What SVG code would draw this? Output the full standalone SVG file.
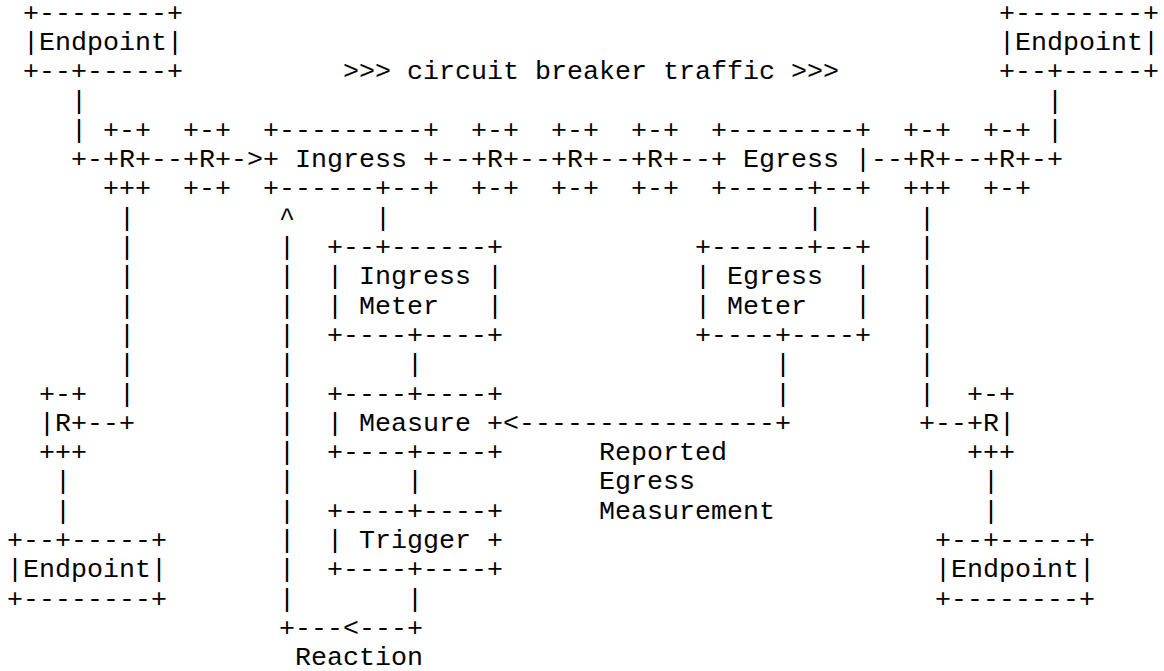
<svg xmlns="http://www.w3.org/2000/svg" width="1164" height="671" viewBox="0 0 1164 671" xml:space="preserve">
<style>
text{font-family:"Liberation Mono","Courier New",monospace;font-size:26.667px;fill:#000;white-space:pre}
</style>
<rect width="1164" height="671" fill="#fff"/>
<g id="connectors">
<text x="71" y="108.6">|</text><text x="71" y="137.9">|</text>
<text x="1047" y="108.6">|</text><text x="1047" y="137.9">|</text>
<text x="71" y="167.1">+-</text>
<text x="151" y="167.1">--</text>
<text x="231" y="167.1">-&gt;</text>
<text x="439" y="167.1">--</text>
<text x="519" y="167.1">--</text>
<text x="599" y="167.1">--</text>
<text x="679" y="167.1">--</text>
<text x="871" y="167.1">--</text>
<text x="951" y="167.1">--</text>
<text x="1031" y="167.1">-+</text>
<text x="119" y="225.7">|</text><text x="119" y="255.0">|</text><text x="119" y="284.3">|</text><text x="119" y="313.6">|</text><text x="119" y="342.9">|</text><text x="119" y="372.2">|</text><text x="119" y="401.5">|</text>
<text x="87" y="430.8">--+</text>
<text x="919" y="225.7">|</text><text x="919" y="255.0">|</text><text x="919" y="284.3">|</text><text x="919" y="313.6">|</text><text x="919" y="342.9">|</text><text x="919" y="372.2">|</text><text x="919" y="401.5">|</text>
<text x="919" y="430.8">+--</text>
<text x="55" y="489.3">|</text><text x="55" y="518.6">|</text>
<text x="983" y="489.3">|</text><text x="983" y="518.6">|</text>
<text x="375" y="225.7">|</text>
<text x="807" y="225.7">|</text>
<text x="407" y="372.2">|</text>
<text x="775" y="372.2">|</text><text x="775" y="401.5">|</text>
<text x="503" y="430.8">&lt;----------------+</text>
<text x="407" y="489.3">|</text>
<text x="407" y="606.5">|</text>
<text x="279" y="225.7">^</text>
<text x="279" y="255.0">|</text><text x="279" y="284.3">|</text><text x="279" y="313.6">|</text><text x="279" y="342.9">|</text><text x="279" y="372.2">|</text><text x="279" y="401.5">|</text><text x="279" y="430.8">|</text><text x="279" y="460.1">|</text><text x="279" y="489.3">|</text><text x="279" y="518.6">|</text><text x="279" y="547.9">|</text><text x="279" y="577.2">|</text><text x="279" y="606.5">|</text>
<text x="279" y="635.8">+---&lt;---+</text>
</g>
<g id="labels">
<text x="343" y="79.3">&gt;&gt;&gt; circuit breaker traffic &gt;&gt;&gt;</text>
<text x="599" y="460.1">Reported</text>
<text x="599" y="489.3">Egress</text>
<text x="599" y="518.6">Measurement</text>
<text x="295" y="665.1">Reaction</text>
</g>
<g id="endpoint-top-left">
<text x="23" y="20.7">+--------+</text>
<text x="23" y="50.0">|Endpoint|</text>
<text x="23" y="79.3">+--+-----+</text>
</g>
<g id="endpoint-top-right">
<text x="999" y="20.7">+--------+</text>
<text x="999" y="50.0">|Endpoint|</text>
<text x="999" y="79.3">+--+-----+</text>
</g>
<g id="endpoint-bottom-left">
<text x="7" y="547.9">+--+-----+</text>
<text x="7" y="577.2">|Endpoint|</text>
<text x="7" y="606.5">+--------+</text>
</g>
<g id="endpoint-bottom-right">
<text x="935" y="547.9">+--+-----+</text>
<text x="935" y="577.2">|Endpoint|</text>
<text x="935" y="606.5">+--------+</text>
</g>
<g id="router-1"><text x="103" y="137.9">+-+</text><text x="103" y="167.1">+R+</text><text x="103" y="196.4">+++</text></g>
<g id="router-2"><text x="183" y="137.9">+-+</text><text x="183" y="167.1">+R+</text><text x="183" y="196.4">+-+</text></g>
<g id="router-3"><text x="471" y="137.9">+-+</text><text x="471" y="167.1">+R+</text><text x="471" y="196.4">+-+</text></g>
<g id="router-4"><text x="551" y="137.9">+-+</text><text x="551" y="167.1">+R+</text><text x="551" y="196.4">+-+</text></g>
<g id="router-5"><text x="631" y="137.9">+-+</text><text x="631" y="167.1">+R+</text><text x="631" y="196.4">+-+</text></g>
<g id="router-6"><text x="903" y="137.9">+-+</text><text x="903" y="167.1">+R+</text><text x="903" y="196.4">+++</text></g>
<g id="router-7"><text x="983" y="137.9">+-+</text><text x="983" y="167.1">+R+</text><text x="983" y="196.4">+-+</text></g>
<g id="router-8"><text x="39" y="401.5">+-+</text><text x="39" y="430.8">|R+</text><text x="39" y="460.1">+++</text></g>
<g id="router-9"><text x="967" y="401.5">+-+</text><text x="967" y="430.8">+R|</text><text x="967" y="460.1">+++</text></g>
<g id="ingress">
<text x="263" y="137.9">+---------+</text>
<text x="263" y="167.1">+ Ingress +</text>
<text x="263" y="196.4">+------+--+</text>
</g>
<g id="egress">
<text x="711" y="137.9">+--------+</text>
<text x="711" y="167.1">+ Egress |</text>
<text x="711" y="196.4">+-----+--+</text>
</g>
<g id="ingress-meter">
<text x="327" y="255.0">+--+------+</text>
<text x="327" y="284.3">| Ingress |</text>
<text x="327" y="313.6">| Meter   |</text>
<text x="327" y="342.9">+----+----+</text>
</g>
<g id="egress-meter">
<text x="695" y="255.0">+------+--+</text>
<text x="695" y="284.3">| Egress  |</text>
<text x="695" y="313.6">| Meter   |</text>
<text x="695" y="342.9">+----+----+</text>
</g>
<g id="measure">
<text x="327" y="401.5">+----+----+</text>
<text x="327" y="430.8">| Measure +</text>
<text x="327" y="460.1">+----+----+</text>
</g>
<g id="trigger">
<text x="327" y="518.6">+----+----+</text>
<text x="327" y="547.9">| Trigger +</text>
<text x="327" y="577.2">+----+----+</text>
</g>
</svg>
